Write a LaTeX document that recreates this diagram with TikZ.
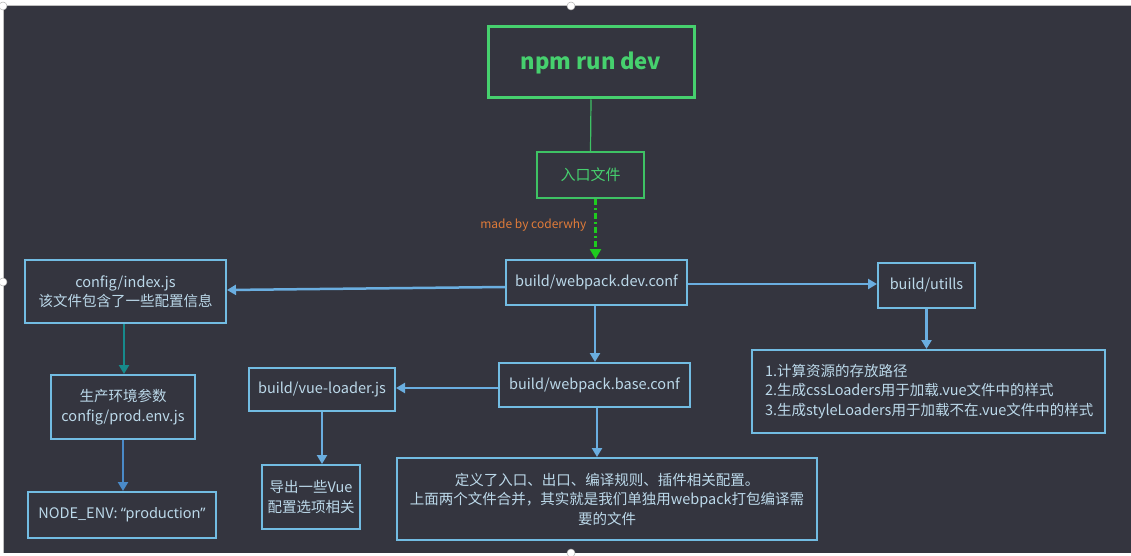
\documentclass[tikz,border=0pt]{standalone}
\usepackage{fontspec}
\setmainfont{Noto Sans CJK SC}
\newfontfamily\latf{Noto Sans}
\usetikzlibrary{arrows.meta,calc}
\definecolor{bg}{HTML}{34353F}
\definecolor{grn}{HTML}{46D06E}
\definecolor{grn2}{HTML}{3EC264}
\definecolor{blu}{HTML}{72BCE2}
\definecolor{txt}{HTML}{BCD9EA}
\definecolor{arr}{HTML}{6AAEE0}
\definecolor{teal}{HTML}{178A8C}
\definecolor{arr2}{HTML}{4A8AC8}
\definecolor{org}{HTML}{E07B39}
\definecolor{dgrn}{HTML}{1ECB1E}
\tikzset{
  bbox/.style={draw=blu, line width=2pt, text=txt, font=\fontsize{14.5}{19.5}\selectfont, align=center, inner sep=0pt},
  gbox/.style={draw=grn, text=grn, align=center, inner sep=0pt},
  arrw/.style={draw=arr, line width=2.5pt, -{Triangle[length=9pt,width=10pt]}},
  handle/.style={circle, fill=white, draw=gray!60, line width=0.5pt, minimum size=8pt, inner sep=0pt}
}
\begin{document}
\begin{tikzpicture}[x=1pt,y=-1pt]
\useasboundingbox (0,0) rectangle (1131,556);
\fill[white] (0,0) rectangle (1131,556);
\fill[bg] (3,6) rectangle (1131,553);
\draw[gray!50, line width=1pt] (3,6) -- (1131,6);
\draw[gray!50, line width=1pt] (3,6) -- (3,553);
% boxes
\node[gbox, line width=3pt, minimum width=206pt, minimum height=71pt, font=\fontsize{22}{26}\selectfont\bfseries] (npm) at (591,62.5) {npm run dev};
\node[gbox, draw=grn2, line width=1.8pt, minimum width=107pt, minimum height=46pt, font=\fontsize{15}{18}\selectfont] (entry) at (590.5,175) {入口文件};
\node[bbox, minimum width=181pt, minimum height=45pt] (dev) at (596.5,282.5) {build/webpack.dev.conf};
\node[bbox, minimum width=201pt, minimum height=63pt] (cfg) at (125.5,291.5) {config/index.js\\该文件包含了一些配置信息};
\node[bbox, minimum width=97pt, minimum height=45pt] (utl) at (926.5,285.5) {build/utills};
\node[bbox, minimum width=353pt, minimum height=83pt, align=left, text width=327pt] (utltxt) at (928.5,391.5) {1.计算资源的存放路径\\2.生成cssLoaders用于加载.vue文件中的样式\\3.生成styleLoaders用于加载不在.vue文件中的样式};
\node[bbox, minimum width=191pt, minimum height=44pt] (base) at (594.5,385) {build/webpack.base.conf};
\node[bbox, minimum width=146pt, minimum height=43pt] (vue) at (322,389.5) {build/vue-loader.js};
\node[bbox, minimum width=98pt, minimum height=64pt] (vuetxt) at (311,497) {导出一些Vue\\配置选项相关};
\node[bbox, minimum width=420pt, minimum height=82pt] (big) at (607,499) {定义了入口、出口、编译规则、插件相关配置。\\上面两个文件合并，其实就是我们单独用webpack打包编译需\\要的文件};
\node[bbox, minimum width=144pt, minimum height=64pt] (prod) at (123,407) {生产环境参数\\config/prod.env.js};
\node[bbox, minimum width=188pt, minimum height=46pt] (nenv) at (122,515) {NODE\_ENV: {\latf “production”}};
\node[text=org, font=\fontsize{12}{14}\selectfont, anchor=east] (mark) at (590,225) {made by coderwhy};
% connectors
\draw[grn2, line width=1.2pt] (npm.south) -- (entry.north);
\draw[dgrn, line width=2.5pt, dash pattern=on 6pt off 3pt on 2pt off 3pt, -{Triangle[length=10pt,width=11pt]}] ([xshift=5pt]entry.south) -- ([xshift=5pt]entry.south |- dev.north);
\draw[arrw] ([yshift=-4.5pt]dev.west) -- ([yshift=1.5pt]cfg.east);
\draw[arrw] ([yshift=-1.5pt]dev.east) -- ([yshift=1.5pt]utl.west);
\draw[arrw] (utl.south) -- (utl.south |- utltxt.north);
\draw[arrw] ([xshift=-1.5pt]dev.south) -- ([xshift=-1.5pt]dev.south |- base.north);
\draw[arrw] ([yshift=-3pt]base.west) -- ([yshift=-3pt]base.west -| vue.east);
\draw[arrw] (vue.south) -- (vue.south |- vuetxt.north);
\draw[arrw] ([xshift=2.5pt]base.south) -- ([xshift=2.5pt]base.south |- big.north);
\draw[arrw, draw=teal] ([xshift=-1.5pt]cfg.south) -- ([xshift=-1.5pt]cfg.south |- prod.north);
\draw[arrw, draw=arr2] (prod.south) -- (prod.south |- nenv.north);
% selection handles
\node[handle] (h1) at (3,6) {};
\node[handle] (h2) at (571,6) {};
\node[handle] (h3) at (3,282) {};
\node[handle] (h4) at (571,553) {};
\end{tikzpicture}
\end{document}
